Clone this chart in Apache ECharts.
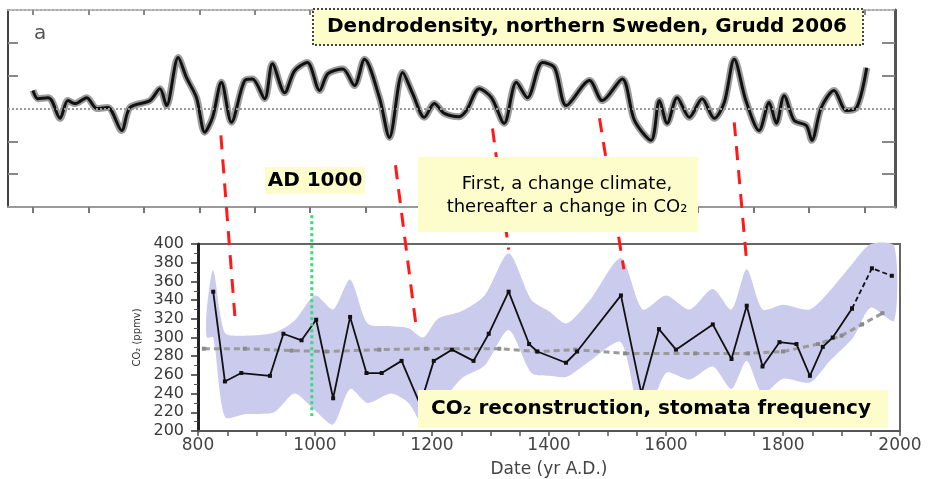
<!DOCTYPE html>
<html><head><meta charset="utf-8">
<script src="https://cdn.jsdelivr.net/npm/echarts@6/dist/echarts.min.js"></script>
<style>html,body{margin:0;padding:0;background:#fff}#c{width:931px;height:479px}</style>
</head><body><div id="c"></div>
<script>
// ---- top panel: dendrodensity (standardised units) ----
const dendroYears  = [500,509,527,534,549,563,576,597,615,635,660,675,711,729,741,762,777,795,810,824,840,858,882,896,918,932,954,972,995,1017,1032,1059,1080,1098,1125,1143,1167,1185,1206,1224,1242,1269,1282,1305,1327,1350,1372,1392,1419,1441,1462,1504,1527,1563,1585,1615,1630,1644,1662,1684,1707,1729,1747,1765,1786,1810,1828,1841,1855,1873,1895,1905,1922,1945,1967,1986,2004];
const dendroValues = [0.55,0.3,0.33,0.24,-0.3,0.24,0.15,0.33,0.0,0.03,-0.67,0.03,0.24,0.6,0.09,1.55,0.94,0.33,-0.72,-0.27,0.8,-0.42,0.85,0.9,0.3,1.36,0.48,1.15,1.4,0.55,1.06,1.2,0.7,1.5,0.33,-0.88,1.1,0.45,-0.27,0.15,-0.15,-0.25,-0.06,0.6,0.33,-0.45,0.8,0.33,1.4,1.24,0.09,0.85,0.24,0.9,-0.36,-0.97,0.24,-0.45,0.33,-0.27,0.3,-0.3,0.18,1.5,0.24,-0.67,0.18,-0.45,0.39,-0.36,-0.52,-0.97,0.03,0.55,-0.06,0.03,1.24];
const topTickYears = [500,600,700,800,900,1000,1100,1200,1300,1400,1500,1600,1700,1800,1900,2000];
const topTickValues = [-2,-1,1,2];

// ---- bottom panel: CO2 stomata reconstruction (ppmv) ----
const co2Years  = [826,846,874,923,946,977,1002,1031,1060,1088,1114,1148,1180,1203,1234,1271,1297,1331,1366,1380,1429,1448,1523,1558,1588,1617,1680,1712,1738,1765,1794,1823,1846,1868,1885,1918];
const co2Values = [349,253,262,259,304,297,319,235,322,262,262,275,228,275,287,275,304,349,293,285,273,285,345,240,309,287,314,277,334,269,295,293,259,290,300,331];
const co2RecentYears  = [1918,1952,1986];
const co2RecentValues = [331,374,366];
const iceYears  = [810,880,960,1020,1110,1190,1315,1380,1445,1530,1650,1740,1800,1860,1900,1935,1970];
const iceValues = [288,288,286,285,287,288,288,285,287,283,283,283,285,293,302,314,326];
const bandYears = [815,826,846,880,930,965,1000,1031,1060,1090,1130,1160,1185,1210,1250,1290,1331,1370,1400,1430,1470,1523,1560,1600,1640,1680,1712,1738,1765,1800,1846,1880,1920,1950,1990];
const bandHigh  = [330,372,305,302,305,318,345,330,362,315,312,310,300,320,328,345,390,340,328,315,340,385,330,345,330,352,330,373,330,335,330,350,380,400,398];
const bandLow   = [300,300,215,218,220,240,222,207,245,230,240,230,207,225,256,270,308,262,259,258,275,295,207,262,255,269,245,275,240,256,252,275,300,332,318];
const co2TickLabels = [200,220,240,260,280,300,320,340,360,380,400];
const dateTickLabels = [800,1000,1200,1400,1600,1800,2000];
const dateMinorTicks = [];
for (let y = 800; y <= 2000; y += 50) dateMinorTicks.push(y);

// annotation links: [topYear, topValue, bottomYear, bottomPpm]
const redLinks = [[839,-0.82,863,323],[1154,-1.73,1172,316],[1329,-0.61,1331,394],[1522,-0.3,1528,373],[1765,-0.42,1738,380]];

const zip = (a, b) => a.map((v, i) => [v, b[i]]);
const chart = echarts.init(document.getElementById('c'), null, {renderer: 'canvas'});
const FONT = 'DejaVu Sans';

chart.setOption({
  animation: false,
  backgroundColor: '#fff',
  grid: [
    {left: 8, right: 36, top: 10, height: 197, show: false},
    {left: 198, right: 31, top: 244, height: 193, show: true, borderColor: '#666', borderWidth: 2}
  ],
  xAxis: [
    {type: 'value', gridIndex: 0, min: 455, max: 2055, position: 'bottom',
     axisLine: {show: true, onZero: false, lineStyle: {color: '#999', width: 2}},
     axisTick: {show: true, customValues: topTickYears, length: 6, lineStyle: {color: '#777', width: 2}},
     axisLabel: {show: false}, splitLine: {show: false}},
    {type: 'value', gridIndex: 0, min: 455, max: 2055, position: 'top',
     axisLine: {show: true, onZero: false, lineStyle: {color: '#aaa', width: 2, type: 'dotted'}},
     axisTick: {show: true, inside: true, customValues: topTickYears, length: 5, lineStyle: {color: '#888', width: 2}},
     axisLabel: {show: false}, splitLine: {show: false}},
    {type: 'value', gridIndex: 1, min: 800, max: 2000, interval: 200,
     axisLine: {show: true, onZero: false, lineStyle: {color: '#555', width: 2}},
     axisTick: {show: true, customValues: dateMinorTicks, length: 5, lineStyle: {color: '#555', width: 1.5}},
     axisLabel: {customValues: dateTickLabels, fontSize: 17, color: '#444', fontFamily: FONT, margin: 6,
                 formatter: v => String(v)},
     splitLine: {show: false},
     name: 'Date (yr A.D.)', nameLocation: 'middle', nameGap: 30,
     nameTextStyle: {fontSize: 17, color: '#444', fontFamily: FONT}}
  ],
  yAxis: [
    {type: 'value', gridIndex: 0, min: -3, max: 3, position: 'left',
     axisLine: {show: true, onZero: false, lineStyle: {color: '#444', width: 2}},
     axisTick: {show: true, inside: true, customValues: topTickValues, length: 10, lineStyle: {color: '#888', width: 2}},
     axisLabel: {show: false}, splitLine: {show: false}},
    {type: 'value', gridIndex: 0, min: -3, max: 3, position: 'right',
     axisLine: {show: true, onZero: false, lineStyle: {color: '#555', width: 3}},
     axisTick: {show: true, inside: true, customValues: topTickValues, length: 13, lineStyle: {color: '#888', width: 2}},
     axisLabel: {show: false}, splitLine: {show: false}},
    {type: 'value', gridIndex: 1, min: 200, max: 400, interval: 20,
     axisLine: {show: true, onZero: false, lineStyle: {color: '#222', width: 3}},
     axisTick: {show: true, length: 7, lineStyle: {color: '#333', width: 1.5}},
     minorTick: {show: true, splitNumber: 2, length: 4, lineStyle: {color: '#555', width: 1}},
     axisLabel: {customValues: co2TickLabels, fontSize: 16, color: '#3a3a3a', fontFamily: FONT, margin: 14,
                 formatter: v => String(v)},
     splitLine: {show: false},
     name: 'CO\u2082 (ppmv)', nameLocation: 'middle', nameGap: -9, nameRotate: 90,
     nameTextStyle: {fontSize: 10, color: '#333', fontFamily: FONT}}
  ],
  series: [
    {type: 'line', xAxisIndex: 0, yAxisIndex: 0, data: zip(dendroYears, dendroValues),
     smooth: 0.3, symbol: 'none', lineStyle: {color: 'rgba(90,90,90,0.6)', width: 7}, z: 2,
     markLine: {silent: true, symbol: 'none', label: {show: false},
       lineStyle: {color: '#999', width: 2, type: 'dotted'}, data: [{yAxis: 0}]}},
    {type: 'line', xAxisIndex: 0, yAxisIndex: 0, data: zip(dendroYears, dendroValues),
     smooth: 0.3, symbol: 'none', lineStyle: {color: '#111', width: 3}, z: 3},
    {type: 'custom', xAxisIndex: 2, yAxisIndex: 2, data: zip(bandYears, bandHigh), z: 1, silent: true,
     renderItem: (params, api) => {
       if (params.dataIndex !== 0) return null;
       const up = bandYears.map((y, i) => api.coord([y, bandHigh[i]]));
       const lo = bandYears.map((y, i) => api.coord([y, bandLow[i]])).reverse();
       return {type: 'polygon', shape: {points: up.concat(lo), smooth: 0.25},
               style: {fill: '#cbcbee'}};
     }},
    {type: 'line', xAxisIndex: 2, yAxisIndex: 2, data: zip(iceYears, iceValues),
     symbol: 'rect', symbolSize: 4, itemStyle: {color: '#8a8a8a'},
     lineStyle: {color: '#9a9a9a', width: 3, type: [6, 4]}, z: 2},
    {type: 'line', xAxisIndex: 2, yAxisIndex: 2, data: zip(co2Years, co2Values),
     symbol: 'rect', symbolSize: 4, itemStyle: {color: '#111'},
     lineStyle: {color: '#111', width: 1.8}, z: 3},
    {type: 'line', xAxisIndex: 2, yAxisIndex: 2, data: zip(co2RecentYears, co2RecentValues),
     symbol: 'rect', symbolSize: 4, itemStyle: {color: '#111'},
     lineStyle: {color: '#111', width: 1.8, type: [5, 3]}, z: 3}
  ]
});

const gfx = [];
redLinks.forEach(l => {
  const p1 = chart.convertToPixel({xAxisIndex: 0, yAxisIndex: 0}, [l[0], l[1]]);
  const p2 = chart.convertToPixel({xAxisIndex: 2, yAxisIndex: 2}, [l[2], l[3]]);
  gfx.push({type: 'line', z: 50, shape: {x1: p1[0], y1: p1[1], x2: p2[0], y2: p2[1]},
    style: {stroke: '#ff1a1a', lineWidth: 3, lineDash: [14, 10]}});
});
const g1 = chart.convertToPixel({xAxisIndex: 0, yAxisIndex: 0}, [1003, -3.25]);
const g2 = chart.convertToPixel({xAxisIndex: 2, yAxisIndex: 2}, [990, 216]);
gfx.push({type: 'line', z: 50, shape: {x1: g1[0], y1: g1[1], x2: g1[0], y2: g2[1]},
  style: {stroke: '#33dd77', lineWidth: 3, lineDash: [3, 3]}});

const box = (x, y, w, h, extra) => Object.assign({type: 'rect', z: 60, shape: {x, y, width: w, height: h},
  style: {fill: '#fdfdcc'}}, extra || {});
const txt = (x, y, text, font, extra) => ({type: 'text', z: 61, x, y,
  style: Object.assign({text, font, fill: '#000', align: 'center', verticalAlign: 'middle'}, extra || {})});

gfx.push(box(313, 9, 550, 36, {style: {fill: '#fdfdcc', stroke: '#444', lineWidth: 2, lineDash: [2, 2]}}));
gfx.push(txt(587, 27, 'Dendrodensity, northern Sweden, Grudd 2006', 'bold 20px "DejaVu Sans"'));
gfx.push(box(265, 167, 100, 27));
gfx.push(txt(315, 181, 'AD 1000', 'bold 20px "DejaVu Sans"'));
gfx.push(box(418, 157, 280, 75));
gfx.push(txt(567, 184, 'First, a change climate,', '18px "DejaVu Sans"'));
gfx.push(txt(567, 207, 'thereafter a change in CO\u2082', '18px "DejaVu Sans"'));
gfx.push(box(418, 390, 470, 38));
gfx.push(txt(651, 409, 'CO\u2082 reconstruction, stomata frequency', 'bold 20px "DejaVu Sans"'));
gfx.push(txt(34, 34, 'a', '20px "DejaVu Sans"', {fill: '#555', align: 'left'}));

chart.setOption({graphic: gfx});
</script>
</body></html>
